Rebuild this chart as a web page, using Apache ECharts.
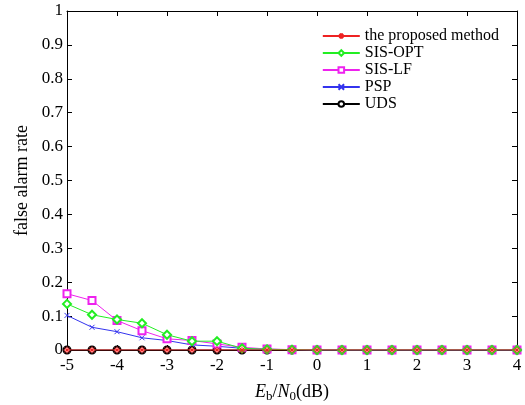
<!DOCTYPE html>
<html><head><meta charset="utf-8">
<script src="https://cdn.jsdelivr.net/npm/echarts@6/dist/echarts.min.js"></script>
<style>html,body{margin:0;padding:0;background:#fff}#c{width:525px;height:405px}</style>
</head><body><div id="c"></div>
<script>
const ebn0 = [-5,-4.5,-4,-3.5,-3,-2.5,-2,-1.5,-1,-0.5,0,0.5,1,1.5,2,2.5,3,3.5,4];
const proposed = [0,0,0,0,0,0,0,0,0,0,0,0,0,0,0,0,0,0,0];
const sisOpt = [0.136,0.104,0.090,0.079,0.045,0.026,0.026,0.005,0.002,0.001,0,0,0,0,0,0,0,0,0];
const sisLf = [0.166,0.146,0.087,0.057,0.033,0.028,0.018,0.008,0.003,0.001,0,0,0,0,0,0,0,0,0];
const psp = [0.102,0.067,0.054,0.036,0.028,0.015,0.011,0.005,0.002,0.001,0,0,0,0,0,0,0,0,0];
const uds = [0,0,0,0,0,0,0,0,0,0,0,0,0,0,0,0,0,0,0];
const yTicks = ['0','0.1','0.2','0.3','0.4','0.5','0.6','0.7','0.8','0.9','1'];

const font = 'Liberation Serif';
const pair = arr => ebn0.map((x,i)=>[x,arr[i]]);
const asterisk = 'path://M5,0L5,10M0,5L10,5M1.5,1.5L8.5,8.5M8.5,1.5L1.5,8.5';
const cross = 'path://M0,0L10,10M10,0L0,10';

function ser(name, data, color, symbol, size, z){
  return {
    name, type:'line', data: pair(data), symbol, symbolSize:size, z,
    showAllSymbol:true,
    lineStyle:{color, width:1},
    itemStyle:{color, borderColor:color, borderWidth:1},
    emphasis:{disabled:true}
  };
}
const tick = {inside:true, length:5, lineStyle:{color:'#000'}};
const line = {onZero:false, lineStyle:{color:'#000', width:1}};

const chart = echarts.init(document.getElementById('c'), null, {renderer:'canvas'});
chart.setOption({
  backgroundColor:'#fff',
  animation:false,
  grid:{left:67, right:8, top:11, bottom:55, containLabel:false, outerBoundsMode:'none'},
  legend:{
    top:23, right:21, orient:'vertical', itemGap:1, itemWidth:37, itemHeight:7,
    textStyle:{fontFamily:font, fontSize:16, color:'#000'},
    data:['the proposed method','SIS-OPT','SIS-LF','PSP','UDS']
  },
  xAxis:[{
    type:'value', min:-5, max:4, interval:1,
    name:'{i|E}{s|b}{n|/}{i|N}{s|0}{n|(dB)}', nameLocation:'middle', nameGap:31,
    nameTextStyle:{rich:{
      i:{fontFamily:font, fontStyle:'italic', fontSize:18, color:'#000'},
      n:{fontFamily:font, fontSize:18, color:'#000'},
      s:{fontFamily:font, fontSize:13, color:'#000', padding:[9,0,0,0]}
    }},
    axisLine:line, axisTick:tick,
    axisLabel:{fontFamily:font, fontSize:17, color:'#000', margin:7},
    splitLine:{show:false}
  },{
    type:'value', position:'top', min:-5, max:4, interval:1,
    axisLine:line, axisTick:tick, axisLabel:{show:false}, splitLine:{show:false}
  }],
  yAxis:[{
    type:'value', min:0, max:1, interval:0.1,
    name:'false alarm rate', nameLocation:'middle', nameGap:36,
    nameTextStyle:{fontFamily:font, fontSize:18, color:'#000'},
    axisLine:line, axisTick:tick,
    axisLabel:{fontFamily:font, fontSize:17, color:'#000', margin:4,
      formatter:(v)=>yTicks[Math.round(v*10)]},
    splitLine:{show:false}
  },{
    type:'value', position:'right', min:0, max:1, interval:0.1,
    axisLine:line, axisTick:tick, axisLabel:{show:false}, splitLine:{show:false}
  }],
  series:[
    ser('UDS', uds, '#000000', 'emptyCircle', 7, 1),
    ser('PSP', psp, '#3333ee', cross, 5, 2),
    ser('SIS-LF', sisLf, '#ee22ee', 'emptyRect', 7, 3),
    ser('SIS-OPT', sisOpt, '#22ee22', 'emptyDiamond', 8, 4),
    ser('the proposed method', proposed, '#ee2222', asterisk, 7, 5)
  ]
});
</script></body></html>
